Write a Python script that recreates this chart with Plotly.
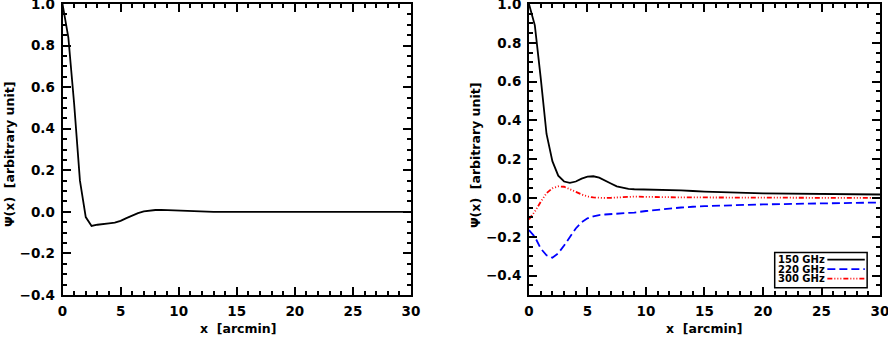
import plotly.graph_objs as go
from plotly.subplots import make_subplots

# sampled profile, arcmin
x_left = [0, 0.5, 1.0, 1.5, 2.0, 2.5, 3.0, 3.5, 4.0, 4.5, 5.0, 5.5, 6.0, 6.5, 7.0,
          7.5, 8.0, 8.5, 9.0, 10, 11, 12, 13, 14, 15, 20, 25, 30]
psi_left = [1.0, 0.84, 0.52, 0.15, -0.025, -0.068, -0.062, -0.057, -0.055, -0.052,
            -0.043, -0.03, -0.017, -0.006, 0.002, 0.007, 0.009, 0.010, 0.009, 0.006,
            0.002, 0.0, 0.0, 0.0, 0.0, 0.0, 0.0, 0.0]

x_right = [0, 0.5, 1.0, 1.5, 2.0, 2.5, 3.0, 3.5, 4.0, 4.5, 5.0, 5.5, 6.0, 6.5, 7.0,
           7.5, 8.0, 8.5, 9.0, 10, 11, 12, 13, 14, 15, 20, 25, 30]
psi_150 = [1.0, 0.89, 0.62, 0.33, 0.19, 0.115, 0.085, 0.078, 0.085, 0.10, 0.11, 0.112,
           0.105, 0.092, 0.075, 0.06, 0.052, 0.047, 0.045, 0.044, 0.043, 0.042, 0.039,
           0.036, 0.033, 0.024, 0.02, 0.018]
psi_220 = [-0.165, -0.2, -0.26, -0.295, -0.308, -0.285, -0.245, -0.2, -0.157, -0.125,
           -0.105, -0.095, -0.088, -0.085, -0.083, -0.081, -0.08, -0.078, -0.075, -0.067,
           -0.06, -0.054, -0.049, -0.045, -0.042, -0.033, -0.027, -0.023]
psi_300 = [-0.11, -0.07, -0.02, 0.025, 0.05, 0.06, 0.058, 0.047, 0.032, 0.018, 0.008,
           0.003, 0.001, 0.0, 0.001, 0.003, 0.005, 0.006, 0.007, 0.006, 0.004, 0.003,
           0.003, 0.003, 0.003, 0.002, 0.001, 0.0]

labels = ['150 GHz', '220 GHz', '300 GHz']
colors = ['black', '#0000ff', '#ff0000']
dashes = ['solid', '8px,4px', '5px,2px,1px,2px,1px,2px,1px,2px']

FONT = 'DejaVu Sans'

fig = make_subplots(rows=1, cols=2)

fig.add_trace(go.Scatter(x=x_left, y=psi_left, mode='lines',
                         line=dict(color='black', width=1.8), showlegend=False),
              row=1, col=1)

for ys, name, c, d in zip([psi_150, psi_220, psi_300], labels, colors, dashes):
    fig.add_trace(go.Scatter(x=x_right, y=ys, mode='lines', name=name,
                             line=dict(color=c, width=1.8, dash=d), showlegend=False),
                  row=1, col=2)

axis_common = dict(
    showline=True, linecolor='black', linewidth=2, mirror='allticks',
    ticks='inside', ticklen=8, tickwidth=1.5, tickcolor='black',
    showgrid=False, zeroline=False, automargin=False, ticklabeloverflow='allow',
    tickfont=dict(family=FONT, size=13.5, color='black', weight='bold'),
)

fig.update_xaxes(range=[0, 30], dtick=5, tick0=0, ticklabelstandoff=3,
                 minor=dict(dtick=1, ticks='inside', ticklen=4, tickcolor='black', tickwidth=1.5),
                 **axis_common)
fig.update_yaxes(dtick=0.2, tick0=0, tickformat='.1f', ticklabelstandoff=3,
                 minor=dict(dtick=0.05, ticks='inside', ticklen=4, tickcolor='black', tickwidth=1.5),
                 **axis_common)

fig.update_layout(
    xaxis=dict(domain=[0.0704, 0.4628]),
    xaxis2=dict(domain=[0.5957, 0.991]),
    yaxis=dict(range=[-0.4, 1.0]),
    yaxis2=dict(range=[-0.5, 1.0]),
    width=888, height=338,
    margin=dict(l=0, r=0, t=4, b=43),
    plot_bgcolor='white', paper_bgcolor='white',
)

# paper coords span the plot area: y=0 at 295px, y=1 at 4px
title_font = dict(family=FONT, size=12.5, color='black', weight='bold')
for xc in [10 / 888, 476 / 888]:
    fig.add_annotation(xref='paper', yref='paper', x=xc, y=(295 - 155) / 291,
                       text='Ψ(x)  [arbitrary unit]', textangle=-90, showarrow=False,
                       xanchor='center', yanchor='middle', font=title_font)
for xc in [238 / 888, 704 / 888]:
    fig.add_annotation(xref='paper', yref='paper', x=xc, y=(295 - 328) / 291,
                       text='x  [arcmin]', showarrow=False,
                       xanchor='center', yanchor='middle', font=title_font)

# legend box drawn like the original (text left, line sample right)
fig.add_shape(type='rect', xref='x2', yref='y2', x0=21.0, x1=28.9, y0=-0.462, y1=-0.281,
              line=dict(color='black', width=1.5), fillcolor='white', layer='above')
for i, (name, c, d) in enumerate(zip(labels, colors, dashes)):
    yy = -0.318 - i * 0.049
    fig.add_annotation(xref='x2', yref='y2', x=21.1, y=yy, text=name, showarrow=False,
                       xanchor='left', yanchor='middle',
                       font=dict(family=FONT, size=10, color='black', weight='bold'))
    fig.add_shape(type='line', xref='x2', yref='y2', x0=25.5, x1=28.7, y0=yy, y1=yy,
                  line=dict(color=c, width=1.8, dash=d), layer='above')

fig.write_html("out.html", config={'displayModeBar': False},
               post_script="document.body.style.margin='0';")
